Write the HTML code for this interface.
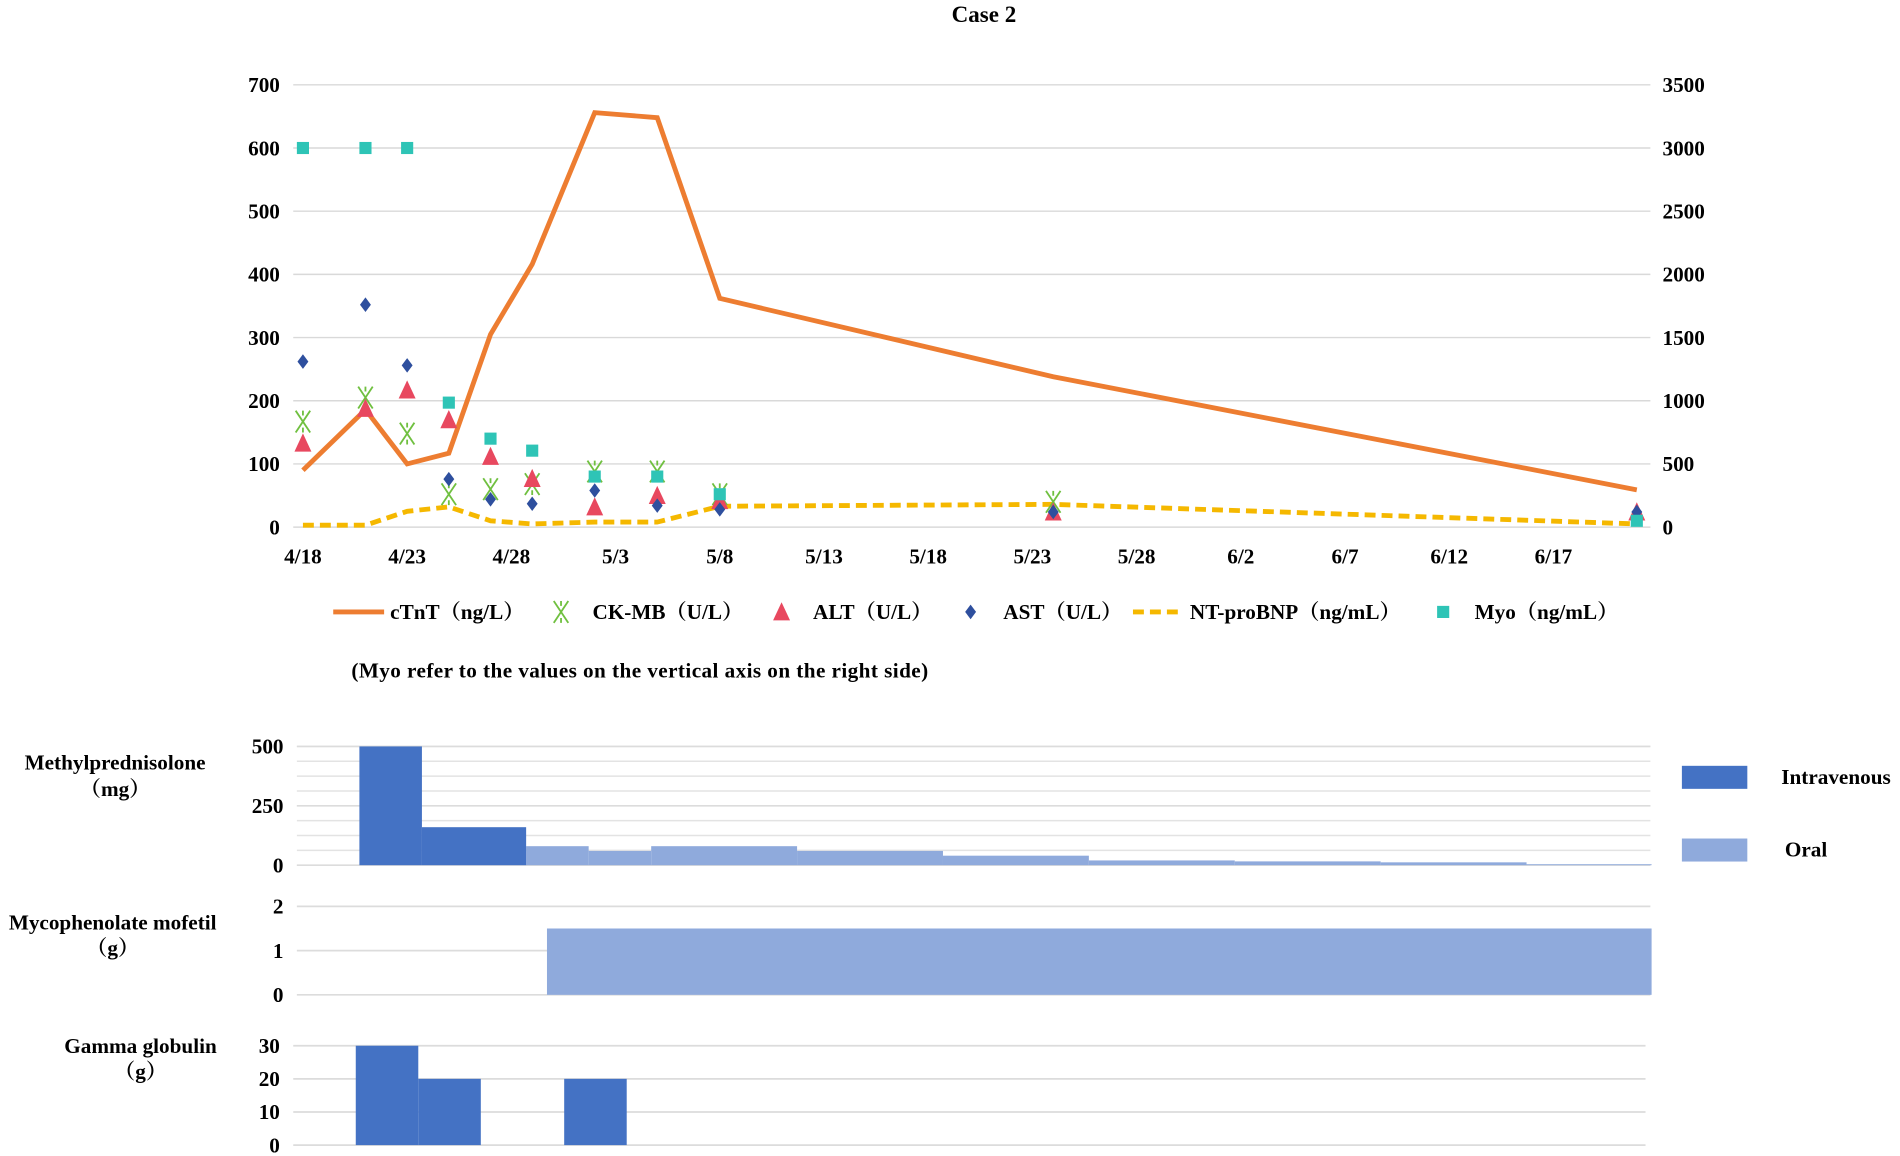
<!DOCTYPE html>
<html><head><meta charset="utf-8"><style>
html,body{margin:0;padding:0;background:#fff}
svg{display:block}
text{font-family:"Liberation Serif","Noto Serif CJK SC",serif;font-weight:bold;fill:#000}
</style></head><body>
<svg id="chart" width="1900" height="1156" viewBox="0 0 1568 954" preserveAspectRatio="none" xmlns="http://www.w3.org/2000/svg">
<text x="812" y="18" font-size="19" text-anchor="middle">Case 2</text>
<g id="topG"></g><g id="bottomG"></g>
</svg>
<script>
// ---- Top chart data (days since 4/18) ----
const tickDays=[0,5,10,15,20,25,30,35,40,45,50,55,60];
const tickLabels=["4/18","4/23","4/28","5/3","5/8","5/13","5/18","5/23","5/28","6/2","6/7","6/12","6/17"];
const leftTicks=[0,100,200,300,400,500,600,700];
const rightTicks=[0,500,1000,1500,2000,2500,3000,3500];
const ctntDays=[0,3,5,7,9,11,14,17,20,36,64];
const ctntVals=[90,186,100,117,305,416,656,648,362,238,59];
const myoDays=[0,3,5,7,9,11,14,17,20,64];
const myoVals=[3000,3000,3000,985,700,605,400,400,260,50];
const ckmbDays=[0,3,5,7,9,11,14,17,20,36];
const ckmbVals=[167,205,148,52,60,68,88,88,52,40];
const altDays=[0,3,5,7,9,11,14,17,20,36,64];
const altVals=[131,186,215,168,110,75,30,48,40,22,22];
const astDays=[0,3,5,7,9,11,14,17,20,36,64];
const astVals=[262,352,256,76,44,37,58,34,28,24,24];
const bnpDays=[0,3,5,7,9,11,14,17,20,36,64];
const bnpVals=[3,3,25,32,10,5,8,8,33,36,5];
// ---- Bottom chart data ----
const mpIvStart=[3,6], mpIvEnd=[6,11], mpIvVals=[500,160];
const mpOralStart=[11,14,17,24,31,38,45,52,59], mpOralEnd=[14,17,24,31,38,45,52,59,65];
const mpOralVals=[80,60,80,60,40,20,16,12,4];
const mmfStart=[12], mmfEnd=[65], mmfVals=[1.5];
const ggStart=[3,6,13], ggEnd=[6,9,16], ggVals=[30,20,20];

const FS=17.5;
const NS="http://www.w3.org/2000/svg";
function mk(parent,tag,attrs,txt){const e=document.createElementNS(NS,tag);for(const k in attrs)e.setAttribute(k,attrs[k]);if(txt!==undefined)e.textContent=txt;parent.appendChild(e);return e;}
const topG=document.getElementById('topG'), botG=document.getElementById('bottomG');
const xD=d=>250+d*17.2;
const yL=v=>435-v*365/700;
const yR=v=>435-v*365/3500;

leftTicks.forEach((t,i)=>{
  const g=mk(topG,'line',{x1:242,x2:1362,y1:yL(t),y2:yL(t),stroke:'#d9d9d9','stroke-width':1.2});
  
  
  const lt=mk(topG,'text',{x:231,y:yL(t)+6,'font-size':FS,'text-anchor':'end'},t);
  
  
});
rightTicks.forEach(t=>{
  const rt=mk(topG,'text',{x:1372,y:yR(t)+6,'font-size':FS},t);
  
  
});
tickDays.forEach((d,i)=>{
  const xt=mk(topG,'text',{x:xD(d),y:465,'font-size':FS,'text-anchor':'middle'},tickLabels[i]);
  
  
});
let bp=bnpDays.map((d,i)=>xD(d)+','+yL(bnpVals[i])).join(' ');
const bl=mk(topG,'polyline',{points:bp,fill:'none',stroke:'#f5b800','stroke-width':4,'stroke-dasharray':'9 5','stroke-linejoin':'round'});


let cp=ctntDays.map((d,i)=>xD(d)+','+yL(ctntVals[i])).join(' ');
const cl=mk(topG,'polyline',{points:cp,fill:'none',stroke:'#ed7d31','stroke-width':4,'stroke-linejoin':'miter'});


function star(g,x,y){mk(g,'path',{d:`M${x-6},${y-9}L${x+6},${y+9}M${x+6},${y-9}L${x-6},${y+9}M${x},${y-9}L${x},${y-5}M${x},${y+5}L${x},${y+9}`,stroke:'#70c040','stroke-width':1.5,fill:'none'});}
function tri(g,x,y){mk(g,'path',{d:`M${x},${y-9}L${x+7},${y+6}L${x-7},${y+6}Z`,fill:'#e8485f'});}
function dia(g,x,y){mk(g,'path',{d:`M${x},${y-6}L${x+4.5},${y}L${x},${y+6}L${x-4.5},${y}Z`,fill:'#2e4f9e'});}
function sq(g,x,y){mk(g,'rect',{x:x-5,y:y-5,width:10,height:10,fill:'#2ec4b6'});}
ckmbDays.forEach((d,i)=>{const g=mk(topG,'g',{});star(g,xD(d),yL(ckmbVals[i]));});
altDays.forEach((d,i)=>{const g=mk(topG,'g',{});tri(g,xD(d),yL(altVals[i]));});
astDays.forEach((d,i)=>{const g=mk(topG,'g',{});dia(g,xD(d),yL(astVals[i]));});
myoDays.forEach((d,i)=>{const g=mk(topG,'g',{});sq(g,xD(d),yR(myoVals[i]));});
const lg=mk(topG,'g',{});


mk(lg,'line',{x1:275,x2:317,y1:505,y2:505,stroke:'#ed7d31','stroke-width':4});
mk(lg,'text',{x:322,y:511,'font-size':FS},'cTnT（ng/L）');
star(lg,463,505);
mk(lg,'text',{x:489,y:511,'font-size':FS},'CK-MB（U/L）');
tri(lg,645,506);
mk(lg,'text',{x:671,y:511,'font-size':FS},'ALT（U/L）');
dia(lg,801,505);
mk(lg,'text',{x:828,y:511,'font-size':FS},'AST（U/L）');
mk(lg,'line',{x1:935,x2:977,y1:505,y2:505,stroke:'#f5b800','stroke-width':4,'stroke-dasharray':'9 5'});
mk(lg,'text',{x:982,y:511,'font-size':FS},'NT-proBNP（ng/mL）');
sq(lg,1191,505);
mk(lg,'text',{x:1217,y:511,'font-size':FS},'Myo（ng/mL）');
const note=mk(topG,'text',{x:290,y:559,'font-size':FS,textLength:476},'(Myo refer to the values on the vertical axis on the right side)');



function panel(x0,x1,y0,yTop,maxV,ticks,minorStep,name){
  const sy=v=>y0-(y0-yTop)*v/maxV;
  if(minorStep){for(let v=0;v<=maxV;v+=minorStep){const l=mk(botG,'line',{x1:x0,x2:x1,y1:sy(v),y2:sy(v),stroke:'#e3e3e3','stroke-width':1.2});}}
  ticks.forEach(t=>{
    const l=mk(botG,'line',{x1:x0,x2:x1,y1:sy(t),y2:sy(t),stroke:'#dcdcdc','stroke-width':1.4});
    
    
    const tx=mk(botG,'text',{x:x0-11,y:sy(t)+6,'font-size':FS,'text-anchor':'end'},t);
    
    
  });
  return sy;
}
function bars(xs,s,e,vals,sy,color,name){
  vals.forEach((v,i)=>{
    const r=mk(botG,'rect',{x:xs(s[i]),y:sy(v),width:xs(e[i])-xs(s[i]),height:sy(0)-sy(v),fill:color});
    
    
  });
}
const xB=d=>245+d*17.2;
const syMP=panel(245,1362,714,616,500,[0,250,500],62.5,'mp');
bars(xB,mpOralStart,mpOralEnd,mpOralVals,syMP,'#8faadc','mp-oral-bar');
bars(xB,mpIvStart,mpIvEnd,mpIvVals,syMP,'#4472c4','mp-iv-bar');
const syMM=panel(245,1362,821,748,2,[0,1,2],0,'mmf');
bars(xB,mmfStart,mmfEnd,mmfVals,syMM,'#8faadc','mmf-oral-bar');
const xG=d=>242+d*17.2;
const syGG=panel(242,1358,945,863,30,[0,10,20,30],0,'gg');
bars(xG,ggStart,ggEnd,ggVals,syGG,'#4472c4','gg-iv-bar');
[["Methylprednisolone",95,635],["（mg）",95,657],["Mycophenolate mofetil",93,767],["（g）",93,788],["Gamma globulin",116,869],["（g）",116,890]].forEach(a=>{
  const t=mk(botG,'text',{x:a[1],y:a[2],'font-size':FS,'text-anchor':'middle'},a[0]);
  
  
});
const l1=mk(botG,'rect',{x:1388,y:632,width:54,height:19,fill:'#4472c4'});


const t1=mk(botG,'text',{x:1470,y:647,'font-size':FS},'Intravenous');


const l2=mk(botG,'rect',{x:1388,y:692,width:54,height:19,fill:'#8faadc'});


const t2=mk(botG,'text',{x:1473,y:707,'font-size':FS},'Oral');


</script>
</body></html>
